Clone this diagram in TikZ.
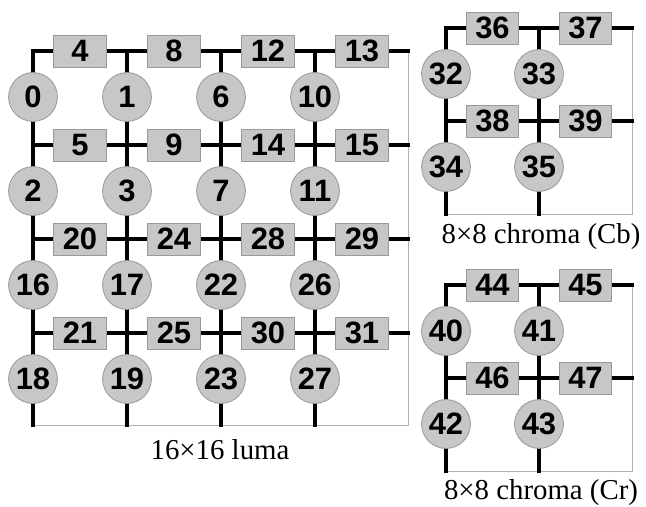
\documentclass[tikz,border=0pt]{standalone}
\usepackage{fontspec}
\setmainfont{Liberation Serif}
\newfontfamily\numfont{Liberation Sans}
\usetikzlibrary{calc}

\tikzset{
	grid line/.style={line width=2.2pt, line cap=rect},
	frame line/.style={draw=black!30, line width=0.7pt},
	mbcircle/.style={circle, draw=black!40, fill=black!22, line width=0.6pt,
		minimum size=1.22cm, inner sep=0pt,
		font=\numfont\bfseries\fontsize{22}{22}\selectfont},
	mbbox/.style={rectangle, draw=black!40, fill=black!22, line width=0.6pt,
		minimum width=1.32cm, minimum height=0.8cm, inner sep=0pt,
		font=\numfont\bfseries\fontsize{22}{22}\selectfont},
	caption/.style={font=\fontsize{20.5}{22}\selectfont}
}

\begin{document}
\begin{tikzpicture}[x=0.025cm,y=-0.025cm]
			\useasboundingbox (0,0) rectangle (646,507);
			% luma 16x16
			\coordinate (L-se) at (408,425);
			\foreach \i in {0,...,3}{
				\coordinate (L-l\i) at (33,{51+94*\i});
				\coordinate (L-r\i) at (408,{51+94*\i});
				\coordinate (L-t\i) at ({33+94*\i},51);
				\coordinate (L-b\i) at ({33+94*\i},425);
			}
			\draw[frame line] (L-l0) rectangle (L-se);
			\foreach \i in {0,...,3}{
				\draw[grid line] (L-l\i) -- (L-r\i);
				\draw[grid line] (L-t\i) -- (L-b\i);
			}
			\foreach \row [count=\i from 0] in {{4,8,12,13},{5,9,14,15},{20,24,28,29},{21,25,30,31}}{
				\foreach \n [count=\j from 0] in \row
					\node[mbbox] (b\n) at ({80+94*\j},{51+94*\i}) {\n};
			}
			\foreach \row [count=\i from 0] in {{0,1,6,10},{2,3,7,11},{16,17,22,26},{18,19,23,27}}{
				\foreach \n [count=\j from 0] in \row
					\node[mbcircle] (c\n) at ({33+94*\j},{97+94*\i}) {\n};
			}
			\node[caption] (luma) at (220,450) {16×16 luma};
			% chroma Cb 8x8
			\coordinate (B-se) at (632,214);
			\foreach \i in {0,1}{
				\coordinate (B-l\i) at (446,{28+93*\i});
				\coordinate (B-r\i) at (632,{28+93*\i});
				\coordinate (B-t\i) at ({446+93*\i},28);
				\coordinate (B-b\i) at ({446+93*\i},214);
			}
			\draw[frame line] (B-l0) rectangle (B-se);
			\foreach \i in {0,1}{
				\draw[grid line] (B-l\i) -- (B-r\i);
				\draw[grid line] (B-t\i) -- (B-b\i);
			}
			\foreach \row [count=\i from 0] in {{36,37},{38,39}}{
				\foreach \n [count=\j from 0] in \row
					\node[mbbox] (b\n) at ({492.5+93*\j},{28+93*\i}) {\n};
			}
			\foreach \row [count=\i from 0] in {{32,33},{34,35}}{
				\foreach \n [count=\j from 0] in \row
					\node[mbcircle] (c\n) at ({446+93*\j},{74+93*\i}) {\n};
			}
			\node[caption] (cb) at (541,237) {8×8 chroma (Cb)};
			% chroma Cr 8x8
			\coordinate (R-se) at (632,471);
			\foreach \i in {0,1}{
				\coordinate (R-l\i) at (446,{285+93*\i});
				\coordinate (R-r\i) at (632,{285+93*\i});
				\coordinate (R-t\i) at ({446+93*\i},285);
				\coordinate (R-b\i) at ({446+93*\i},471);
			}
			\draw[frame line] (R-l0) rectangle (R-se);
			\foreach \i in {0,1}{
				\draw[grid line] (R-l\i) -- (R-r\i);
				\draw[grid line] (R-t\i) -- (R-b\i);
			}
			\foreach \row [count=\i from 0] in {{44,45},{46,47}}{
				\foreach \n [count=\j from 0] in \row
					\node[mbbox] (b\n) at ({492.5+93*\j},{285+93*\i}) {\n};
			}
			\foreach \row [count=\i from 0] in {{40,41},{42,43}}{
				\foreach \n [count=\j from 0] in \row
					\node[mbcircle] (c\n) at ({446+93*\j},{331+93*\i}) {\n};
			}
			\node[caption] (cr) at (541,493) {8×8 chroma (Cr)};
		\end{tikzpicture}
\end{document}
